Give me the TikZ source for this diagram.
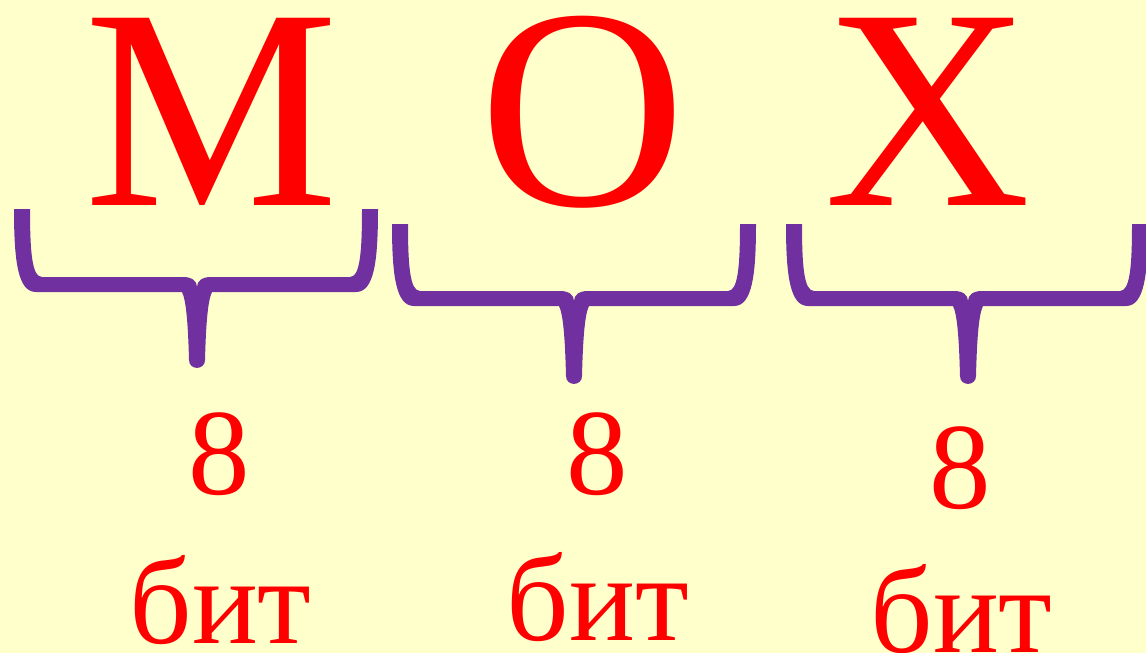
\documentclass[tikz,border=0pt]{standalone}
\usepackage{fontspec}
\setmainfont{Liberation Serif}
\definecolor{bgc}{HTML}{FFFFCC}
\definecolor{bracec}{HTML}{7030A0}
\definecolor{txtred}{HTML}{FF0000}
\newcommand{\mybrace}[6]{%
  % #1 L outer, #2 R outer, #3 top y, #4 bar top y, #5 cusp x, #6 stem end y
  \fill[bracec] (#1,#3)
    .. controls (#1,{#4-15}) and ({#1+4},{#4+15}) .. ({#1+22},{#4+15})
    -- ({#5-15},{#4+15})
    .. controls ({#5-11},{#4+23}) and ({#5-9},{#4+45}) .. ({#5-8},#6)
    .. controls ({#5-8},{#6+10.5}) and ({#5+8},{#6+10.5}) .. ({#5+8},#6)
    .. controls ({#5+9},{#4+45}) and ({#5+11},{#4+23}) .. ({#5+15},{#4+15})
    -- ({#2-22},{#4+15})
    .. controls ({#2-4},{#4+15}) and (#2,{#4-15}) .. (#2,#3)
    -- ({#2-16},#3)
    .. controls ({#2-16},{#4-25}) and ({#2-18},#4) .. ({#2-28},#4)
    -- ({#5+14},#4)
    .. controls ({#5+5},#4) and (#5,{#4+4}) .. (#5,{#4+10})
    .. controls (#5,{#4+4}) and ({#5-5},#4) .. ({#5-14},#4)
    -- ({#1+28},#4)
    .. controls ({#1+18},#4) and ({#1+16},{#4-25}) .. ({#1+16},#3)
    -- cycle;}
\begin{document}
\begin{tikzpicture}[x=1pt,y=-1pt,
  letter/.style={anchor=base,inner sep=0pt,text=txtred,font=\fontsize{286pt}{286pt}\selectfont},
  label/.style={anchor=base,inner sep=0pt,text=txtred,font=\fontsize{123pt}{123pt}\selectfont}]
\fill[bgc] (0,0) rectangle (1146,653);
\useasboundingbox (0,0) rectangle (1146,653);
\mybrace{14}{378}{209}{277}{197}{360}
\mybrace{392}{756}{224}{291}{574}{376}
\mybrace{786}{1148}{224}{291}{968}{376}
\node[letter] (m) at (211.5,205) {М};
\node[letter] (o) at (582.5,205) {О};
\node[letter] (h) at (928,205) {Х};
\node[label] (n1) at (219,494) {8};
\node[label] (b1) at (220.5,643) {бит};
\node[label] (n2) at (597,494) {8};
\node[label] (b2) at (598,640) {бит};
\node[label] (n3) at (960.5,508) {8};
\node[label] (b3) at (961.5,652) {бит};
\end{tikzpicture}
\end{document}
